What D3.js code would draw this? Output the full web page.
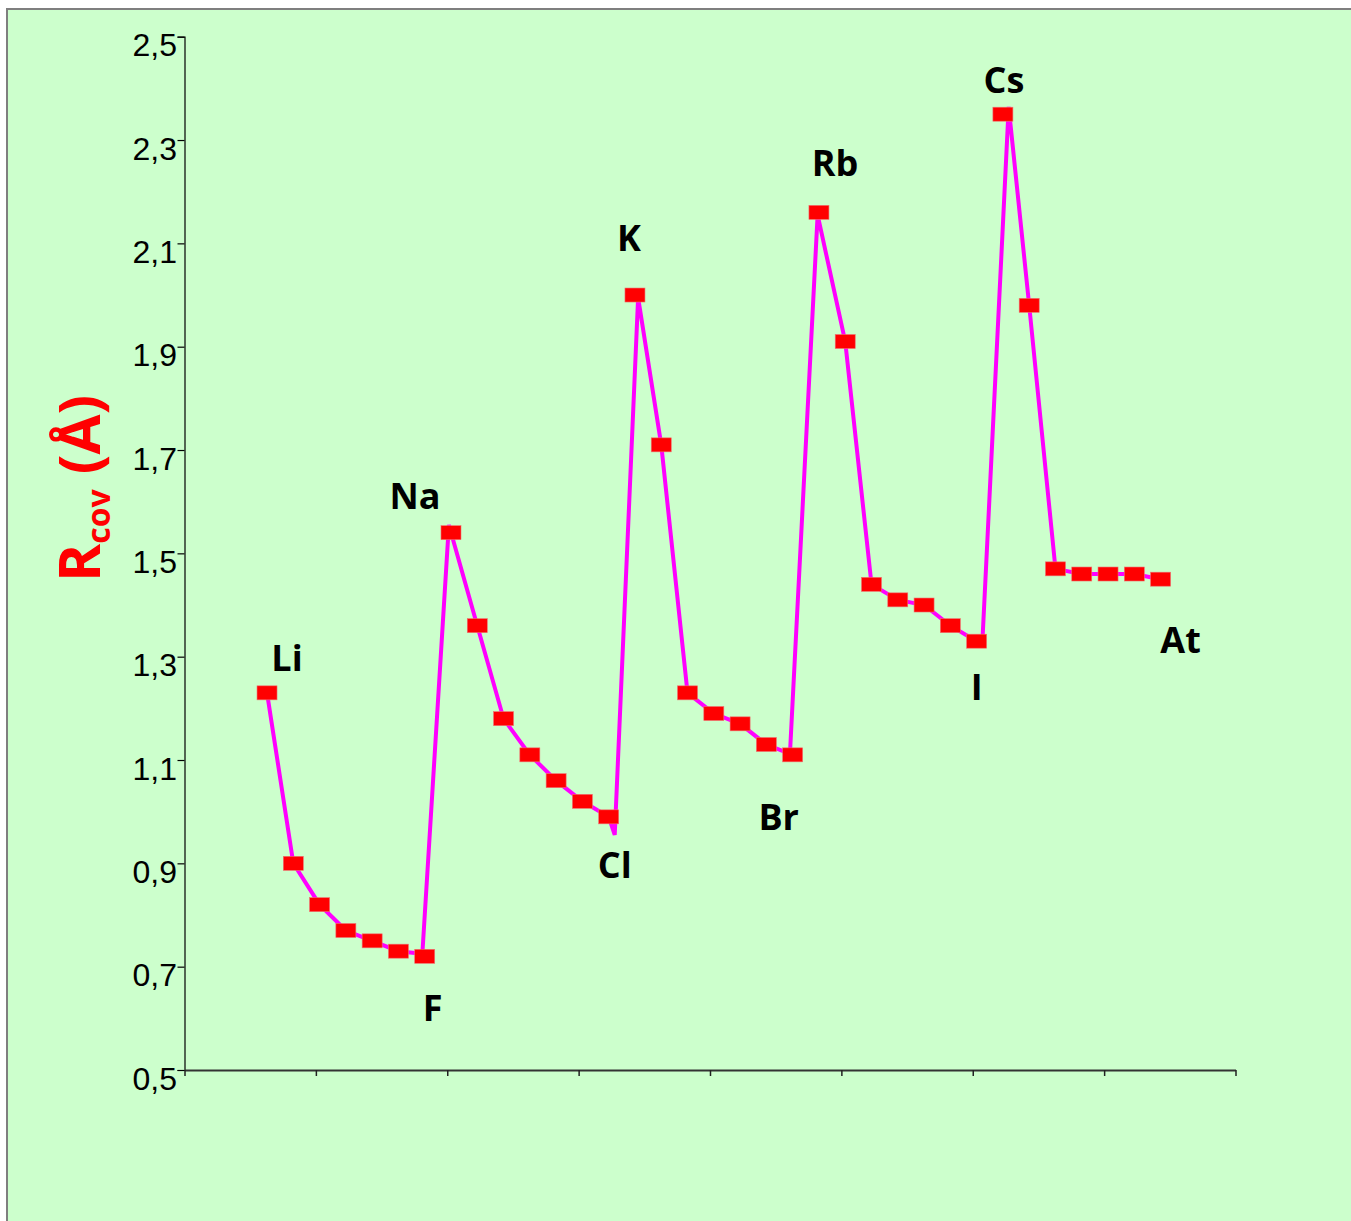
<!DOCTYPE html>
<html>
<head>
<meta charset="utf-8">
<script src="https://cdn.jsdelivr.net/npm/d3@7"></script>
<style>
  html, body { margin: 0; padding: 0; background: #ffffff; }
  svg { display: block; }
</style>
</head>
<body>
<svg id="chart" width="1351" height="1221"></svg>
<script>
// Covalent radii (Å) of the s- and p-block elements, periods 2 to 6
const elements = ["Li","Be","B","C","N","O","F",
                  "Na","Mg","Al","Si","P","S","Cl",
                  "K","Ca","Ga","Ge","As","Se","Br",
                  "Rb","Sr","In","Sn","Sb","Te","I",
                  "Cs","Ba","Tl","Pb","Bi","Po","At"];
const radii = [1.23, 0.90, 0.82, 0.77, 0.75, 0.73, 0.72,
               1.54, 1.36, 1.18, 1.11, 1.06, 1.02, 0.99,
               2.00, 1.71, 1.23, 1.19, 1.17, 1.13, 1.11,
               2.16, 1.91, 1.44, 1.41, 1.40, 1.36, 1.33,
               2.35, 1.98, 1.47, 1.46, 1.46, 1.46, 1.45];

// Hand-drawn connecting trace: its own vertex list (position, radius);
// at each period break it jumps up from just past the halogen.
const tracePos = [1, 2, 3, 4, 5, 6, 6.91, 7.92,
                  9, 10, 11, 12, 13, 14, 14.23, 15.12,
                  16, 17, 18, 19, 20, 21, 20.9, 21.95,
                  23, 24, 25, 26, 27, 28, 28.22, 29.22,
                  30, 31, 32, 33, 34, 35];
const traceVal = [1.23, 0.90, 0.82, 0.77, 0.75, 0.73, 0.725, 1.555,
                  1.36, 1.18, 1.11, 1.06, 1.02, 0.99, 0.955, 1.995,
                  1.71, 1.23, 1.19, 1.17, 1.13, 1.11, 1.115, 2.155,
                  1.91, 1.44, 1.41, 1.40, 1.36, 1.33, 1.33, 2.364,
                  1.98, 1.47, 1.46, 1.46, 1.46, 1.45];

// Elements that carry a name label
const labelled = ["Li","Na","F","Cl","K","Br","Rb","I","Cs","At"];

// y-axis ticks
const yTicks = [0.5, 0.7, 0.9, 1.1, 1.3, 1.5, 1.7, 1.9, 2.1, 2.3, 2.5];

// ---- layout / style ----
const plot = { left: 184.5, right: 1235.5, top: 36.7, bottom: 1070 };
const labelOffset = {
  Li: [20, -22], Na: [-36, -24], F: [8, 65], Cl: [6, 61], K: [-6, -44],
  Br: [-14, 75], Rb: [16, -36], I: [0, 59], Cs: [1, -21], At: [20, 74]
};

const svg = d3.select("#chart");

// panel background with its frame
svg.append("rect")
  .attr("x", 7).attr("y", 9)
  .attr("width", 1370).attr("height", 1240)
  .attr("fill", "#ccffcc")
  .attr("stroke", "#7f7f7f").attr("stroke-width", 2);

const pos = d3.range(1, elements.length + 1);
const xDomain = [-2.14, 37.85];
const x = d3.scaleLinear().domain(xDomain).range([plot.left, plot.right]);
const y = d3.scaleLinear().domain([0.5, 2.5]).range([plot.bottom, plot.top]);

const comma = d3.formatLocale({ decimal: ",", thousands: " ", grouping: [3], currency: ["", ""] });
const fmt = comma.format(".1f");

// y axis
const yAxis = svg.append("g")
  .attr("transform", `translate(${plot.left},0)`)
  .call(d3.axisLeft(y).tickValues(yTicks).tickFormat(fmt).tickSize(7).tickPadding(0));
yAxis.select(".domain").attr("stroke", "#000").attr("stroke-width", 1.2);
yAxis.selectAll(".tick line").attr("stroke", "#000").attr("stroke-width", 1.2);
yAxis.selectAll(".tick text")
  .attr("x", -7.5)
  .attr("dy", "19px")
  .attr("font-family", "'Liberation Sans', Arial, sans-serif")
  .attr("font-size", 32)
  .attr("fill", "#000");

// x axis: tick marks only, eight equal intervals
const xTickVals = d3.range(9).map(k => xDomain[0] + k * (xDomain[1] - xDomain[0]) / 8);
const xAxis = svg.append("g")
  .attr("transform", `translate(0,${plot.bottom})`)
  .call(d3.axisBottom(x).tickValues(xTickVals).tickFormat("").tickSize(6).tickSizeOuter(0));
xAxis.select(".domain").attr("stroke", "#333").attr("stroke-width", 1.8);
xAxis.selectAll(".tick line").attr("stroke", "#222").attr("stroke-width", 1.5);

// connecting trace
const trace = d3.line().x(d => x(d[0])).y(d => y(d[1]));
svg.append("path")
  .datum(tracePos.map((p, i) => [p, traceVal[i]]))
  .attr("d", trace)
  .attr("fill", "none")
  .attr("stroke", "#ff00ff")
  .attr("stroke-width", 4)
  .attr("stroke-linejoin", "miter");

// markers
const mw = 20, mh = 14;
svg.append("g").selectAll("rect")
  .data(radii)
  .join("rect")
  .attr("x", (d, i) => x(pos[i]) - mw / 2)
  .attr("y", d => y(d) - mh / 2)
  .attr("width", mw).attr("height", mh)
  .attr("fill", "#ff0000")
  .attr("stroke", "#f07070").attr("stroke-width", 0.6);

// element names
svg.append("g").selectAll("text")
  .data(labelled)
  .join("text")
  .attr("x", d => x(pos[elements.indexOf(d)]) + labelOffset[d][0])
  .attr("y", d => y(radii[elements.indexOf(d)]) + labelOffset[d][1])
  .attr("text-anchor", "middle")
  .attr("font-family", "'Open Sans', 'DejaVu Sans', sans-serif")
  .attr("font-weight", "bold")
  .attr("font-size", 36)
  .attr("fill", "#000")
  .text(d => d);

// y-axis title: R_cov (Å)
const title = svg.append("text")
  .attr("transform", "translate(100,582) rotate(-90)")
  .attr("font-family", "'Open Sans', 'DejaVu Sans', sans-serif")
  .attr("font-weight", "bold")
  .attr("fill", "#ff0000");
title.append("tspan").attr("font-size", 58).text("R");
title.append("tspan").attr("font-size", 32).attr("dy", 10).text("cov");
title.append("tspan").attr("font-size", 58).attr("dy", -10).text("\u00a0(Å)");
</script>
</body>
</html>
